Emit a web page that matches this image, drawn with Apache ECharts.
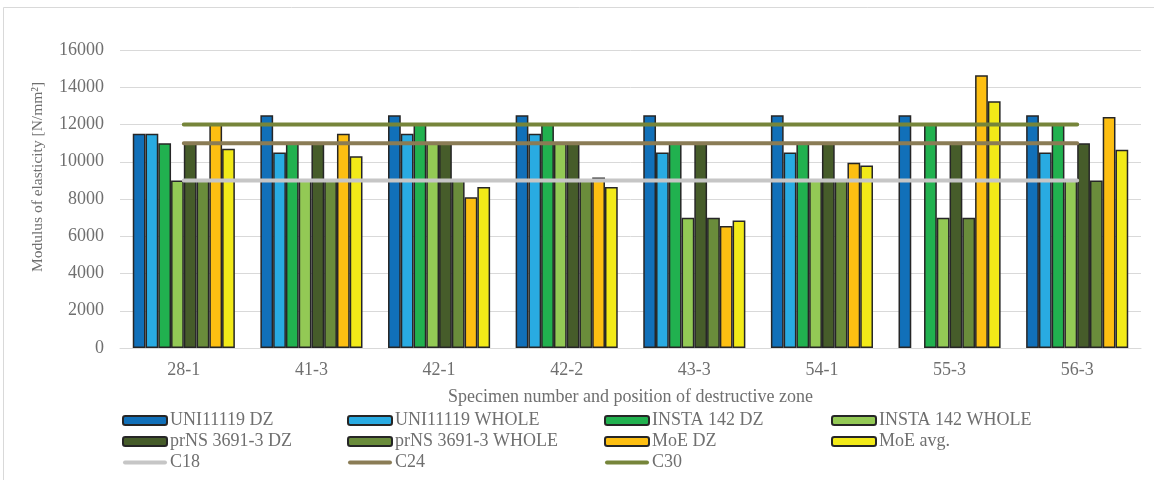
<!DOCTYPE html>
<html>
<head>
<meta charset="utf-8">
<script src="https://cdn.jsdelivr.net/npm/echarts@6/dist/echarts.min.js"></script>
<style>
html,body{margin:0;padding:0;background:#fff;}
#chart{width:1154px;height:480px;}
</style>
</head>
<body>
<div id="chart"></div>
<script>
const categories = ['28-1','41-3','42-1','42-2','43-3','54-1','55-3','56-3'];
const uniDZ      = [11500,12500,12500,12500,12500,12500,12500,12500];
const uniWhole   = [11500,10500,11500,11500,10500,10500,null,10500];
const instaDZ    = [11000,11000,12000,12000,11000,11000,12000,12000];
const instaWhole = [9000,9000,11000,11000,7000,9000,7000,9000];
const prnsDZ     = [11000,11000,11000,11000,11000,11000,11000,11000];
const prnsWhole  = [9000,9000,9000,9000,7000,9000,7000,9000];
const moeDZ      = [12000,11500,8100,9150,6550,9950,14650,12400];
const moeAvg     = [10700,10300,8650,8650,6850,9800,13250,10650];
const c18 = [9000,9000,9000,9000,9000,9000,9000,9000];
const c24 = [11000,11000,11000,11000,11000,11000,11000,11000];
const c30 = [12000,12000,12000,12000,12000,12000,12000,12000];
const yTicks = {min:0, max:16000, interval:2000};

const FONT = '"Liberation Serif", "Times New Roman", serif';
const TXT = '#6f6f6f';
const LINE_ICON = 'path://M2,0 L42,0 A2,2 0 0 1 42,4 L2,4 A2,2 0 0 1 2,0 Z';

function bar(name, data, color){
  return {name, type:'bar', data, barGap:'0%', barCategoryGap:'20%',
    itemStyle:{color, borderColor:'#262626', borderWidth:1.5}};
}
function line(name, data, color){
  return {name, type:'line', data, symbol:'none', z:5,
    lineStyle:{color, width:4, cap:'round'}, itemStyle:{color}};
}
function li(name){ return {name, icon:LINE_ICON, itemStyle:{borderWidth:0}}; }
const legendCommon = {orient:'vertical', top:410, itemWidth:44, itemHeight:9, itemGap:0,
  symbolKeepAspect:true,
  textStyle:{fontFamily:FONT, fontSize:18, color:TXT, lineHeight:21, padding:[0,0,0,-2]}, padding:0};

const option = {
  backgroundColor:'#fff',
  animation:false,
  graphic:[{type:'rect', shape:{x:3.5, y:7.5, width:1200, height:500},
    style:{fill:'none', stroke:'#d9d9d9', lineWidth:1}, silent:true}],
  grid:{left:120, right:13, top:50, bottom:132},
  xAxis:{type:'category', data:categories,
    axisLine:{lineStyle:{color:'#d9d9d9', width:1}}, axisTick:{show:false},
    axisLabel:{fontFamily:FONT, fontSize:18, color:TXT, margin:13},
    name:'Specimen number and position of destructive zone', nameLocation:'middle', nameGap:40,
    nameTextStyle:{fontFamily:FONT, fontSize:18, color:TXT}},
  yAxis:{type:'value', min:yTicks.min, max:yTicks.max, interval:yTicks.interval,
    axisLine:{show:false}, axisTick:{show:false},
    splitLine:{lineStyle:{color:'#d9d9d9', width:1}},
    axisLabel:{fontFamily:FONT, fontSize:18, color:TXT, margin:16, formatter:(v)=>String(v)},
    name:'Modulus of elasticity [N/mm²]', nameLocation:'middle', nameGap:74,
    nameTextStyle:{fontFamily:FONT, fontSize:15.5, color:TXT, padding:[0,0,0,44]}},
  legend:[
    Object.assign({left:122, data:['UNI11119 DZ','prNS 3691-3 DZ',li('C18')]}, legendCommon),
    Object.assign({left:347, data:['UNI11119 WHOLE','prNS 3691-3 WHOLE',li('C24')]}, legendCommon),
    Object.assign({left:604, data:['INSTA 142 DZ','MoE DZ',li('C30')]}, legendCommon),
    Object.assign({left:831, data:['INSTA 142 WHOLE','MoE avg.']}, legendCommon)
  ],
  series:[
    bar('UNI11119 DZ', uniDZ, '#1170b9'),
    bar('UNI11119 WHOLE', uniWhole, '#29abe2'),
    bar('INSTA 142 DZ', instaDZ, '#21b14f'),
    bar('INSTA 142 WHOLE', instaWhole, '#93c955'),
    bar('prNS 3691-3 DZ', prnsDZ, '#465c2a'),
    bar('prNS 3691-3 WHOLE', prnsWhole, '#6a8c3b'),
    bar('MoE DZ', moeDZ, '#fdbf12'),
    bar('MoE avg.', moeAvg, '#f2ea18'),
    line('C18', c18, '#c6c6c6'),
    line('C24', c24, '#8a7c55'),
    line('C30', c30, '#76853a')
  ]
};
const chart = echarts.init(document.getElementById('chart'), null, {renderer:'canvas'});
chart.setOption(option);
</script>
</body>
</html>
